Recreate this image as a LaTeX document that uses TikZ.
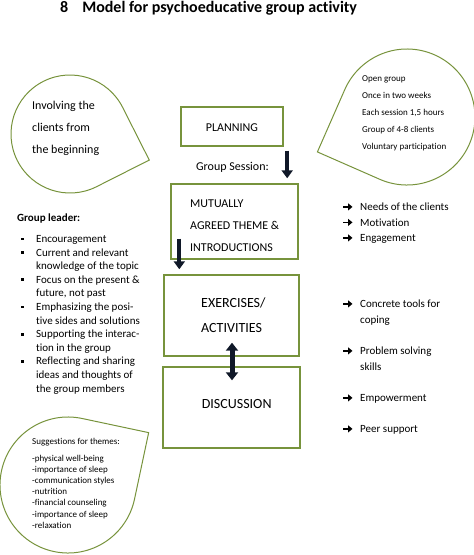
\documentclass[tikz,border=0pt]{standalone}
\usepackage{fontspec}
\setmainfont{Carlito}[Ligatures={NoCommon}]
\usetikzlibrary{arrows.meta,calc}
\definecolor{boxgreen}{RGB}{119,147,60}
\definecolor{arrownavy}{RGB}{16,24,40}
\newcommand\fsize[2]{\fontsize{#1}{#2}\selectfont}
\newcommand\teardrop[4]{%
  \draw[tear] ($(#1,#2)+({#4}:{1.41421*#3pt})$) -- ($(#1,#2)+({#4+45}:{#3pt})$)
    arc[start angle={#4+45}, delta angle=270, radius={#3pt}] -- cycle;}
\begin{document}
\begin{tikzpicture}[x=1pt,y=-1pt,
  txt/.style={inner sep=0pt, anchor=base west},
  ctxt/.style={inner sep=0pt, anchor=base},
  box/.style={draw=boxgreen, line width=1.4pt, inner sep=0pt},
  tear/.style={draw=boxgreen, line width=1pt},
  blockarrow/.style={draw=arrownavy, line width=4pt, -{Triangle[width=11pt,length=8pt]}},
  dblarrow/.style={draw=arrownavy, line width=5pt, {Triangle[width=12pt,length=8pt]}-{Triangle[width=12pt,length=8pt]}},
  bularrow/.style={draw=black, line width=1.8pt, -{Triangle[width=7pt,length=4.5pt]}}]
\useasboundingbox (0,0) rectangle (474,555);

% title
\node[txt, font=\fsize{16}{19}\bfseries] (title) at (60,12) {8\hspace{14pt}Model for psychoeducative group activity};

% teardrops
\teardrop{70}{134}{59}{-18.2}
\teardrop{407}{117}{68}{201.3}
\teardrop{68}{485}{68}{33}

% left teardrop text
\node[txt, font=\fsize{12}{14}] (inv1) at (32,109) {Involving the};
\node[txt, font=\fsize{12}{14}] (inv2) at (32,131) {clients from};
\node[txt, font=\fsize{12}{14}] (inv3) at (32,153) {the beginning};

% right teardrop text
\foreach \t [count=\k from 0] in {Open group, Once in two weeks, {Each session 1,5 hours}, Group of 4-8 clients, Voluntary participation}
  \node[txt, font=\fsize{9}{11}] (og\k) at (362,{81+17.2*\k}) {\t};

% boxes
\node[box, minimum width=102pt, minimum height=39pt] (plan) at (232,126.5) {};
\node[box, minimum width=127pt, minimum height=75pt] (mut) at (234.5,221.5) {};
\node[box, minimum width=135pt, minimum height=81pt] (exc) at (231.5,315.5) {};
\node[box, minimum width=137pt, minimum height=81pt] (disc) at (231.5,407.5) {};

% box texts
\node[ctxt, font=\fsize{12}{14}] (plantxt) at (232,131.5) {PLANNING};
\node[ctxt, font=\fsize{12}{14}] (gs) at (232.5,170) {Group Session:};
\node[txt, font=\fsize{12}{14}] (mut1) at (190,207) {MUTUALLY};
\node[txt, font=\fsize{12}{14}] (mut2) at (190,229) {AGREED THEME \&};
\node[txt, font=\fsize{12}{14}] (mut3) at (190,251) {INTRODUCTIONS};
\node[txt, font=\fsize{14}{16}] (exc1) at (201,307) {EXERCISES/};
\node[txt, font=\fsize{14}{16}] (exc2) at (201,332) {ACTIVITIES};
\node[ctxt, font=\fsize{14}{16}] (disctxt) at (236.7,408) {DISCUSSION};

% block arrows
\coordinate (a1s) at ([xshift=3.5pt,yshift=-4pt]plan.south east);
\coordinate (a1e) at (a1s |- mut.north);
\draw[blockarrow] (a1s) -- ([yshift=5pt]a1e);
\coordinate (a2s) at ([xshift=9pt,yshift=21pt]mut.south west);
\coordinate (a2e) at (a2s |- exc.north);
\draw[blockarrow] (a2s) -- ([yshift=5pt]a2e);
\draw[dblarrow] ([xshift=0.5pt,yshift=14pt]exc.south) -- ([xshift=0.5pt,yshift=-14pt]disc.north);

% group leader
\node[txt, font=\fsize{11}{13}\bfseries] (gl) at (17,221) {Group leader:};
\foreach \t [count=\k from 0] in {Encouragement, Current and relevant, knowledge of the topic, Focus on the present \&, {future, not past}, Emphasizing the posi-, tive sides and solutions, Supporting the interac-, tion in the group, Reflecting and sharing, ideas and thoughts of, the group members}
  \node[txt, font=\fsize{11}{13}] (gl\k) at (36,{242.5+13.6*\k}) {\t};
\foreach \k in {0,1,3,5,7,9}
  \fill ($(gl\k.base west)+(-15pt,2.2pt)$) rectangle +(2.8pt,2.8pt);

% right list
\node[txt, font=\fsize{11}{13}] (r1) at (360,210.5) {Needs of the clients};
\node[txt, font=\fsize{11}{13}] (r2) at (360,226) {Motivation};
\node[txt, font=\fsize{11}{13}] (r3) at (360,241.5) {Engagement};
\node[txt, font=\fsize{11}{13}] (r4) at (360,307.5) {Concrete tools for};
\node[txt, font=\fsize{11}{13}] (r4b) at (360,323.5) {coping};
\node[txt, font=\fsize{11}{13}] (r5) at (360,354.5) {Problem solving};
\node[txt, font=\fsize{11}{13}] (r5b) at (360,370.5) {skills};
\node[txt, font=\fsize{11}{13}] (r6) at (360,401.5) {Empowerment};
\node[txt, font=\fsize{11}{13}] (r7) at (360,432.5) {Peer support};
\foreach \n in {r1,r2,r3,r4,r5,r6,r7}
  \draw[bularrow] ([xshift=-17pt,yshift=3.6pt]\n.base west) -- ([xshift=-7.5pt,yshift=3.6pt]\n.base west);

% suggestions
\node[txt, font=\fsize{9}{11}] (sg) at (32,444.5) {Suggestions for themes:};
\foreach \t [count=\k from 0] in {-physical well-being, -importance of sleep, -communication styles, -nutrition, -financial counseling, -importance of sleep, -relaxation}
  \node[txt, font=\fsize{9}{11}] (sg\k) at (32,{461+11.2*\k}) {\t};
\end{tikzpicture}
\end{document}
